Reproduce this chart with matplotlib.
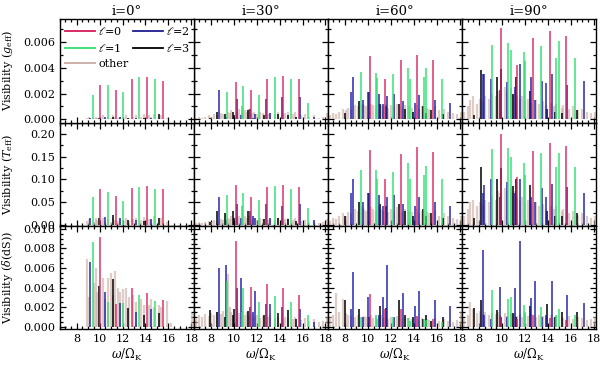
import matplotlib
matplotlib.use("Agg")
import matplotlib.pyplot as plt
from matplotlib.ticker import MultipleLocator, FormatStrFormatter
from matplotlib.lines import Line2D

plt.rcParams['font.family'] = ['DejaVu Serif']
plt.rcParams['mathtext.fontset'] = 'dejavuserif'

# Inclinations (columns) and visibility kinds (rows)
incl = [0, 30, 60, 90]
row_labels = [r'Visibility $(g_{\rm eff})$', r'Visibility $(T_{\rm eff})$',
              r'Visibility $(\delta({\rm dS}))$']

# ---- i = 0 ----
l0_freq_i0 = [10.05, 11.42, 12.8, 14.1, 15.5]
l0_vis_i0 = [[0.0027, 0.0023, 0.0031, 0.0033, 0.0030],
             [0.078, 0.062, 0.081, 0.085, 0.078],
             [0.0092, 0.0023, 0.0039, 0.0034, 0.0027]]
l1_freq_i0 = [9.38, 10.76, 12.08, 13.43, 14.8]
l1_vis_i0 = [[0.0019, 0.0027, 0.0021, 0.0033, 0.0031],
             [0.060, 0.071, 0.053, 0.083, 0.078],
             [0.0087, 0.0025, 0.0024, 0.0032, 0.0026]]
l2_freq_i0 = [9.2, 10.5, 11.8, 13.2, 14.5]
l2_vis_i0 = [[0.0001, 0.0002, 0.0002, 0.0001, 0.0001],
             [0.015, 0.016, 0.015, 0.010, 0.012],
             [0.0066, 0.0035, 0.0024, 0.0015, 0.0018]]
l3_freq_i0 = [9.92, 11.16, 12.5, 13.9, 15.2]
l3_vis_i0 = [[0.0001, 0.0002, 0.0001, 0.0001, 0.0004],
             [0.015, 0.022, 0.010, 0.008, 0.015],
             [0.0042, 0.0049, 0.0019, 0.0012, 0.0014]]

# ---- i = 30 ----
l0_freq_i30 = [10.17, 11.5, 12.94, 14.29, 15.7]
l0_vis_i30 = [[0.0029, 0.0023, 0.0031, 0.0034, 0.0031],
              [0.088, 0.060, 0.084, 0.088, 0.083],
              [0.0088, 0.0041, 0.0044, 0.0039, 0.0032]]
l1_freq_i30 = [9.43, 10.7, 10.84, 12.2, 13.6, 15.0, 16.45]
l1_vis_i30 = [[0.0021, 0.0010, 0.0026, 0.0019, 0.0033, 0.0031, 0.0013],
              [0.065, 0.040, 0.070, 0.054, 0.085, 0.079, 0.036],
              [0.0047, 0.0015, 0.0039, 0.0025, 0.0031, 0.0025, 0.0012]]
l2_freq_i30 = [8.7, 9.29, 10.25, 10.6, 11.4, 11.65, 11.85, 12.8, 13.2, 14.23, 15.75, 17.0]
l2_vis_i30 = [[0.0023, 0.0002, 0.0016, 0.0003, 0.0008, 0.0001, 0.0004, 0.0016, 0.0005, 0.0017, 0.0017, 0.0002],
              [0.061, 0.010, 0.045, 0.015, 0.030, 0.018, 0.015, 0.045, 0.015, 0.040, 0.045, 0.010],
              [0.0060, 0.0063, 0.0040, 0.0050, 0.0020, 0.0015, 0.0036, 0.0023, 0.0023, 0.0020, 0.0018, 0.0005]]
l3_freq_i30 = [7.9, 8.5, 9.22, 9.9, 10.05, 11.2, 12.6, 13.9, 14.7, 15.4]
l3_vis_i30 = [[0.0001, 0.0006, 0.0004, 0.0006, 0.0003, 0.0007, 0.0003, 0.0004, 0.0003, 0.0002],
              [0.005, 0.030, 0.025, 0.030, 0.015, 0.030, 0.012, 0.015, 0.012, 0.008],
              [0.0017, 0.0015, 0.0010, 0.0012, 0.0018, 0.0016, 0.0012, 0.0014, 0.0017, 0.0008]]

# ---- i = 60 ----
l0_freq_i60 = [10.17, 11.5, 12.9, 14.29, 15.68]
l0_vis_i60 = [[0.0049, 0.0031, 0.0046, 0.0050, 0.0046],
              [0.165, 0.100, 0.155, 0.170, 0.160],
              [0.0033, 0.0018, 0.0018, 0.0011, 0.0008]]
l1_freq_i60 = [9.39, 10.7, 10.8, 12.17, 13.5, 13.65, 14.9, 15.04, 16.43]
l1_vis_i60 = [[0.0037, 0.0036, 0.0032, 0.0035, 0.0040, 0.0031, 0.0033, 0.0040, 0.0031],
              [0.120, 0.120, 0.100, 0.115, 0.135, 0.100, 0.110, 0.130, 0.100],
              [0.0010, 0.0012, 0.0008, 0.0010, 0.0009, 0.0006, 0.0008, 0.0007, 0.0005]]
l2_freq_i60 = [8.52, 8.68, 9.6, 9.97, 11.0, 11.33, 11.7, 12.3, 13.07, 14.12, 14.46, 15.83, 17.2]
l2_vis_i60 = [[0.0021, 0.0033, 0.0015, 0.0021, 0.0020, 0.0012, 0.0018, 0.0020, 0.0014, 0.0013, 0.0019, 0.0015, 0.0013],
              [0.070, 0.100, 0.050, 0.070, 0.065, 0.040, 0.060, 0.065, 0.045, 0.040, 0.060, 0.050, 0.040],
              [0.0018, 0.0056, 0.0010, 0.0030, 0.0012, 0.0030, 0.0063, 0.0010, 0.0034, 0.0021, 0.0036, 0.0027, 0.0021]]
l3_freq_i60 = [8.0, 9.25, 10.1, 11.04, 11.55, 12.72, 13.2, 13.9, 14.8, 15.1, 15.5, 16.55]
l3_vis_i60 = [[0.0005, 0.0014, 0.0021, 0.0012, 0.0010, 0.0012, 0.0008, 0.0006, 0.0010, 0.0005, 0.0007, 0.0004],
              [0.020, 0.050, 0.070, 0.045, 0.040, 0.045, 0.030, 0.020, 0.035, 0.020, 0.025, 0.015],
              [0.0027, 0.0018, 0.0010, 0.0021, 0.0019, 0.0027, 0.0012, 0.0010, 0.0008, 0.0012, 0.0006, 0.0010]]

# ---- i = 90 ----
l0_freq_i90 = [9.93, 11.33, 12.73, 14.16, 15.55]
l0_vis_i90 = [[0.0071, 0.0042, 0.0063, 0.0069, 0.0065],
              [0.200, 0.105, 0.163, 0.180, 0.173],
              [0.0010, 0.0008, 0.0012, 0.0009, 0.0007]]
l1_freq_i90 = [9.16, 10.5, 10.8, 11.93, 12.05, 13.4, 14.75, 14.95, 16.36]
l1_vis_i90 = [[0.0058, 0.0059, 0.0054, 0.0052, 0.0045, 0.0057, 0.0048, 0.0061, 0.0048],
              [0.166, 0.168, 0.150, 0.135, 0.110, 0.157, 0.126, 0.157, 0.126],
              [0.0037, 0.0028, 0.0030, 0.0022, 0.0015, 0.0020, 0.0012, 0.0018, 0.0012]]
l2_freq_i90 = [8.3, 8.42, 9.05, 9.8, 10.4, 11.1, 11.58, 12.5, 12.87, 13.5, 13.85, 14.37, 15.7, 17.16]
l2_vis_i90 = [[0.0035, 0.0035, 0.0031, 0.0023, 0.0029, 0.0025, 0.0043, 0.0033, 0.0015, 0.0030, 0.0028, 0.0035, 0.0027, 0.0030],
              [0.070, 0.087, 0.100, 0.060, 0.095, 0.070, 0.100, 0.060, 0.050, 0.080, 0.060, 0.090, 0.082, 0.070],
              [0.0078, 0.0012, 0.0008, 0.0041, 0.0010, 0.0040, 0.0088, 0.0029, 0.0047, 0.0010, 0.0012, 0.0047, 0.0032, 0.0024]]
l3_freq_i90 = [7.55, 8.2, 9.6, 9.9, 11.0, 11.2, 12.45, 13.9, 14.6, 15.2, 16.5]
l3_vis_i90 = [[0.0003, 0.0038, 0.0033, 0.0039, 0.0020, 0.0033, 0.0022, 0.0008, 0.0006, 0.0005, 0.0007],
              [0.015, 0.126, 0.100, 0.125, 0.086, 0.100, 0.087, 0.030, 0.020, 0.020, 0.025],
              [0.0019, 0.0027, 0.0017, 0.0010, 0.0014, 0.0010, 0.0021, 0.0023, 0.0010, 0.0015, 0.0015]]

# ---- other modes (same frequencies for every inclination) ----
other_freq = [6.7, 7.0, 7.25, 7.5, 7.8, 8.05, 8.3, 8.55, 8.9, 9.1,
              9.5, 9.65, 9.8, 10.3, 10.45, 10.75, 10.95, 11.15, 11.3, 11.6,
              11.75, 12.0, 12.3, 12.55, 12.95, 13.2, 13.6, 13.85, 14.3, 14.5,
              14.7, 15.2, 15.35, 15.85, 16.2, 16.6, 17.0, 17.4, 17.8, 18.1]
other_vis_i0 = [[0, 0, 0, 0, 0, 0, 0, 0, 0.0001, 0.0002,
                 0.0001, 0.0002, 0.0001, 0.0003, 0.0001, 0.0002, 0.0001, 0.0003, 0.0002, 0.0001,
                 0.0002, 0.0001, 0.0003, 0.0001, 0.0002, 0.0003, 0.0002, 0.0004, 0.0003, 0.0002,
                 0.0004, 0.0002, 0.0003, 0.0001, 0, 0, 0, 0, 0, 0],
                [0, 0, 0, 0, 0, 0, 0, 0, 0.008, 0.012,
                 0.006, 0.015, 0.010, 0.014, 0.008, 0.012, 0.006, 0.015, 0.010, 0.008,
                 0.012, 0.006, 0.015, 0.008, 0.012, 0.014, 0.010, 0.016, 0.012, 0.010,
                 0.018, 0.010, 0.014, 0.006, 0, 0, 0, 0, 0, 0],
                [0, 0, 0, 0, 0, 0, 0, 0, 0.0069, 0.0030,
                 0.0045, 0.0060, 0.0035, 0.0050, 0.0028, 0.0050, 0.0055, 0.0032, 0.0057, 0.0040,
                 0.0035, 0.0038, 0.0039, 0.0030, 0.0032, 0.0025, 0.0028, 0.0022, 0.0022, 0.0028,
                 0.0020, 0.0022, 0.0020, 0.0026, 0.0004, 0, 0, 0, 0, 0.0014]]
other_vis_i30 = [[0.0001, 0.0002, 0.0001, 0.0002, 0.0003, 0.0002, 0.0004, 0.0003, 0.0005, 0.0004,
                  0.0006, 0.0005, 0.0007, 0.0006, 0.0008, 0.0005, 0.0007, 0.0006, 0.0008, 0.0005,
                  0.0006, 0.0004, 0.0006, 0.0005, 0.0004, 0.0005, 0.0004, 0.0006, 0.0004, 0.0005,
                  0.0006, 0.0004, 0.0006, 0.0003, 0.0004, 0.0002, 0.0003, 0.0001, 0.0002, 0.0005],
                 [0.003, 0.005, 0.003, 0.005, 0.008, 0.005, 0.010, 0.008, 0.012, 0.010,
                  0.015, 0.012, 0.018, 0.015, 0.020, 0.012, 0.018, 0.015, 0.020, 0.012,
                  0.015, 0.010, 0.015, 0.012, 0.010, 0.012, 0.010, 0.015, 0.010, 0.012,
                  0.015, 0.010, 0.015, 0.008, 0.010, 0.005, 0.008, 0.003, 0.005, 0.012],
                 [0.0008, 0.0012, 0.0010, 0.0013, 0.0011, 0.0014, 0.0012, 0.0015, 0.0013, 0.0016,
                  0.0054, 0.0020, 0.0015, 0.0018, 0.0014, 0.0016, 0.0012, 0.0015, 0.0011, 0.0013,
                  0.0010, 0.0012, 0.0009, 0.0011, 0.0010, 0.0012, 0.0009, 0.0010, 0.0008, 0.0010,
                  0.0009, 0.0008, 0.0010, 0.0007, 0.0009, 0.0006, 0.0008, 0.0005, 0.0006, 0.0010]]
other_vis_i60 = [[0.0003, 0.0005, 0.0004, 0.0006, 0.0008, 0.0007, 0.0009, 0.0008, 0.0011, 0.0010,
                  0.0012, 0.0011, 0.0010, 0.0012, 0.0011, 0.0010, 0.0012, 0.0011, 0.0010, 0.0012,
                  0.0009, 0.0011, 0.0010, 0.0012, 0.0009, 0.0011, 0.0010, 0.0009, 0.0011, 0.0008,
                  0.0010, 0.0009, 0.0008, 0.0010, 0.0007, 0.0008, 0.0006, 0.0005, 0.0004, 0.0006],
                 [0.008, 0.015, 0.012, 0.018, 0.025, 0.020, 0.028, 0.025, 0.035, 0.030,
                  0.038, 0.035, 0.030, 0.038, 0.035, 0.030, 0.038, 0.035, 0.030, 0.038,
                  0.028, 0.035, 0.030, 0.038, 0.028, 0.035, 0.030, 0.028, 0.035, 0.025,
                  0.030, 0.028, 0.025, 0.030, 0.020, 0.025, 0.018, 0.015, 0.012, 0.018],
                 [0.0010, 0.0012, 0.0034, 0.0015, 0.0028, 0.0014, 0.0012, 0.0011, 0.0010, 0.0012,
                  0.0009, 0.0011, 0.0010, 0.0012, 0.0009, 0.0011, 0.0010, 0.0012, 0.0009, 0.0010,
                  0.0008, 0.0010, 0.0009, 0.0011, 0.0008, 0.0010, 0.0009, 0.0008, 0.0010, 0.0007,
                  0.0009, 0.0008, 0.0007, 0.0009, 0.0006, 0.0008, 0.0006, 0.0005, 0.0007, 0.0015]]
other_vis_i90 = [[0.0006, 0.0010, 0.0015, 0.0018, 0.0012, 0.0016, 0.0014, 0.0018, 0.0016, 0.0020,
                  0.0018, 0.0022, 0.0020, 0.0025, 0.0022, 0.0024, 0.0020, 0.0022, 0.0018, 0.0016,
                  0.0018, 0.0014, 0.0016, 0.0013, 0.0015, 0.0012, 0.0014, 0.0011, 0.0013, 0.0010,
                  0.0012, 0.0009, 0.0011, 0.0008, 0.0010, 0.0007, 0.0008, 0.0006, 0.0005, 0.0006],
                 [0.020, 0.035, 0.050, 0.055, 0.040, 0.050, 0.045, 0.055, 0.050, 0.060,
                  0.055, 0.075, 0.070, 0.080, 0.075, 0.080, 0.070, 0.075, 0.060, 0.055,
                  0.060, 0.050, 0.055, 0.045, 0.050, 0.040, 0.045, 0.035, 0.040, 0.035,
                  0.040, 0.030, 0.035, 0.025, 0.030, 0.022, 0.025, 0.020, 0.015, 0.020],
                 [0.0008, 0.0012, 0.0025, 0.0018, 0.0014, 0.0016, 0.0013, 0.0015, 0.0012, 0.0014,
                  0.0013, 0.0015, 0.0012, 0.0014, 0.0011, 0.0013, 0.0012, 0.0014, 0.0011, 0.0013,
                  0.0010, 0.0012, 0.0011, 0.0013, 0.0010, 0.0012, 0.0011, 0.0010, 0.0012, 0.0009,
                  0.0011, 0.0010, 0.0009, 0.0011, 0.0008, 0.0010, 0.0009, 0.0007, 0.0008, 0.0010]]

# collect per column
l0_data = [(l0_freq_i0, l0_vis_i0), (l0_freq_i30, l0_vis_i30), (l0_freq_i60, l0_vis_i60), (l0_freq_i90, l0_vis_i90)]
l1_data = [(l1_freq_i0, l1_vis_i0), (l1_freq_i30, l1_vis_i30), (l1_freq_i60, l1_vis_i60), (l1_freq_i90, l1_vis_i90)]
l2_data = [(l2_freq_i0, l2_vis_i0), (l2_freq_i30, l2_vis_i30), (l2_freq_i60, l2_vis_i60), (l2_freq_i90, l2_vis_i90)]
l3_data = [(l3_freq_i0, l3_vis_i0), (l3_freq_i30, l3_vis_i30), (l3_freq_i60, l3_vis_i60), (l3_freq_i90, l3_vis_i90)]
other_data = [(other_freq, v) for v in (other_vis_i0, other_vis_i30, other_vis_i60, other_vis_i90)]

c_other = '#c9aaa3'
c_l3 = '#000000'
c_l2 = '#1c1ca8'
c_l1 = '#2ee070'
c_l0 = '#d81a5a'

# drawing order: background first, l=0 on top
layers = [(other_data, c_other, 0.6, 1.6),
          (l3_data, c_l3, 0.85, 1.3),
          (l2_data, c_l2, 0.75, 1.4),
          (l1_data, c_l1, 0.75, 1.4),
          (l0_data, c_l0, 0.7, 1.4)]

ylims = [(-0.00025, 0.0078), (-0.003, 0.225), (-0.0003, 0.0103)]
ymajor = [0.002, 0.05, 0.002]
yminor = [0.001, 0.025, 0.0005]
yfmt = ['%.3f', '%.2f', '%.3f']

fig, axes = plt.subplots(3, 4, figsize=(6, 3.66), dpi=100)
fig.subplots_adjust(left=59.5/600, right=596/600, top=1-19/366, bottom=1-329.5/366,
                    wspace=0, hspace=0)

for c in range(4):
    for r in range(3):
        ax = axes[r, c]
        for data, color, alpha, lw in layers:
            f, v = data[c]
            ax.vlines(f, 0, v[r], colors=color, alpha=alpha, lw=lw)
        ax.set_xlim(6.5, 18.2)
        ax.set_ylim(*ylims[r])
        ax.xaxis.set_major_locator(MultipleLocator(2))
        ax.xaxis.set_minor_locator(MultipleLocator(0.5))
        ax.yaxis.set_major_locator(MultipleLocator(ymajor[r]))
        ax.yaxis.set_minor_locator(MultipleLocator(yminor[r]))
        ax.yaxis.set_major_formatter(FormatStrFormatter(yfmt[r]))
        ax.tick_params(which='both', direction='in', top=True, right=True,
                       labelsize=8, width=0.9, pad=3)
        ax.tick_params(which='major', length=4)
        ax.tick_params(which='minor', length=2)
        for s in ax.spines.values():
            s.set_linewidth(1.0)
        if c != 0:
            ax.set_yticklabels([])
        else:
            ax.set_ylabel(row_labels[r], fontsize=8)
            ax.yaxis.set_label_coords(-0.33, 0.5)
        if r != 2:
            ax.set_xticklabels([])
        else:
            ax.set_xlabel(r'$\omega/\Omega_{\rm K}$', fontsize=8.5, labelpad=2)
        if r == 0:
            ax.set_title(f'i={incl[c]}°', fontsize=9.5, pad=3)

handles = [Line2D([], [], color=c_l0, lw=1.3),
           Line2D([], [], color=c_l1, lw=1.3),
           Line2D([], [], color=c_other, lw=1.3),
           Line2D([], [], color='#1c1c90', lw=1.3),
           Line2D([], [], color=c_l3, lw=1.3)]
labels = [r'$\ell$=0', r'$\ell$=1', 'other', r'$\ell$=2', r'$\ell$=3']
axes[0, 0].set_zorder(5)
axes[0, 0].legend(handles, labels, ncol=2, frameon=False, loc='upper left',
                  fontsize=8, handlelength=2.7, columnspacing=0.4,
                  handletextpad=0.3, labelspacing=0.45, borderaxespad=0.2,
                  borderpad=0.3)

fig.savefig('out.png', dpi=100)
